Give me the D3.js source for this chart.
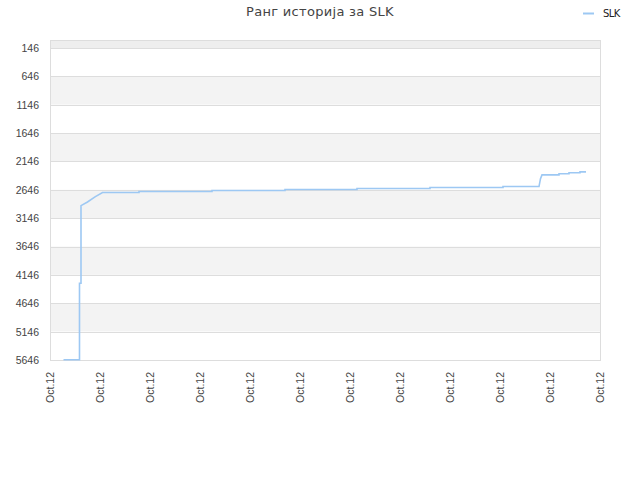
<!DOCTYPE html>
<html>
<head>
<meta charset="utf-8">
<script src="https://cdn.jsdelivr.net/npm/d3@7"></script>
<style>
  body { margin: 0; background: #fff; }
  svg { font-family: "DejaVu Sans", sans-serif; }
</style>
</head>
<body>
<div class="chart"></div>
<script>
// tick labels
const yTicks = [146, 646, 1146, 1646, 2146, 2646, 3146, 3646, 4146, 4646, 5146, 5646];
const xTickLabels = ['Oct.12', 'Oct.12', 'Oct.12', 'Oct.12', 'Oct.12', 'Oct.12',
                     'Oct.12', 'Oct.12', 'Oct.12', 'Oct.12', 'Oct.12', 'Oct.12'];
// series: time (in tick units) and rank
const seriesName = 'SLK';
const times = [0.27, 0.59, 0.59, 0.62, 0.62, 0.75, 0.9, 1.05,
               1.78, 1.78, 3.24, 3.24, 4.70, 4.70, 6.14, 6.14, 7.60, 7.60, 9.06, 9.06,
               9.78, 9.81, 9.84, 10.18, 10.18, 10.38, 10.38, 10.60, 10.60, 10.72];
const ranks = [5641, 5641, 4294, 4294, 2925, 2860, 2770, 2694,
               2694, 2676, 2676, 2658, 2658, 2641, 2641, 2623, 2623, 2605, 2605, 2588,
               2588, 2450, 2382, 2382, 2364, 2364, 2346, 2346, 2329, 2329];

const data = times.map((t, i) => ({ t: t, rank: ranks[i] }));

const svgW = 640, svgH = 480;
const margin = { top: 40, left: 50, right: 40, bottom: 120 };
const w = svgW - margin.left - margin.right;
const h = svgH - margin.top - margin.bottom;

const svg = d3.select('.chart').append('svg')
  .attr('width', svgW).attr('height', svgH);

const x = d3.scaleLinear().domain([0, xTickLabels.length - 1]).range([0, w]);
const y = d3.scaleLinear().domain([5646, 146]).range([h, 8]);

const g = svg.append('g').attr('transform', `translate(${margin.left},${margin.top})`);

// top band above first tick
g.append('rect').attr('x', 0).attr('y', 0).attr('width', w).attr('height', y(146))
  .attr('fill', '#eeeeee');
// alternating bands
g.selectAll('.band').data(d3.pairs(yTicks)).enter()
  .append('rect').attr('class', 'band')
  .attr('x', 0).attr('width', w)
  .attr('y', d => y(d[0]))
  .attr('height', d => y(d[1]) - y(d[0]))
  .attr('fill', (d, i) => i % 2 === 0 ? '#ffffff' : '#f3f3f3');

// grid lines
g.selectAll('.grid').data(yTicks).enter()
  .append('line').attr('class', 'grid')
  .attr('x1', 0).attr('x2', w)
  .attr('y1', d => Math.round(y(d)) + 0.5).attr('y2', d => Math.round(y(d)) + 0.5)
  .attr('stroke', '#dddddd');

// frame
g.append('rect').attr('x', 0.5).attr('y', 0.5).attr('width', w).attr('height', h)
  .attr('fill', 'none').attr('stroke', '#dddddd');

// y axis
const yAxis = d3.axisLeft(y).tickValues(yTicks).tickSize(0).tickPadding(11).tickFormat(d3.format('d'));
const yG = g.append('g').call(yAxis);
yG.select('.domain').remove();
yG.selectAll('text').style('font-size', '10.5px').style('fill', '#444');

// x axis
const xAxis = d3.axisBottom(x).tickValues(d3.range(xTickLabels.length))
  .tickSize(0).tickFormat((d, i) => xTickLabels[i]);
const xG = g.append('g').attr('transform', `translate(0,${h})`).call(xAxis);
xG.select('.domain').remove();
xG.selectAll('text')
  .style('font-size', '10.5px').style('fill', '#444')
  .attr('transform', 'rotate(-90)')
  .attr('x', -12).attr('y', 0).attr('dy', '0.35em')
  .style('text-anchor', 'end');

// line
const line = d3.line().x(d => x(d.t)).y(d => y(d.rank));
g.append('path').datum(data)
  .attr('d', line)
  .attr('fill', 'none')
  .attr('stroke', '#9dc8f3')
  .attr('stroke-width', 1.6);

// title
svg.append('text').attr('x', 320).attr('y', 16)
  .attr('text-anchor', 'middle')
  .style('font-size', '13px').style('fill', '#444').style('letter-spacing', '0.3px')
  .text('Ранг историја за ' + seriesName);

// legend
svg.append('line').attr('x1', 583).attr('x2', 594).attr('y1', 13.5).attr('y2', 13.5)
  .attr('stroke', '#9dc8f3').attr('stroke-width', 2);
svg.append('text').attr('x', 603).attr('y', 17)
  .style('font-size', '10px').style('fill', '#222').style('letter-spacing', '-0.6px')
  .text(seriesName);
</script>
</body>
</html>
